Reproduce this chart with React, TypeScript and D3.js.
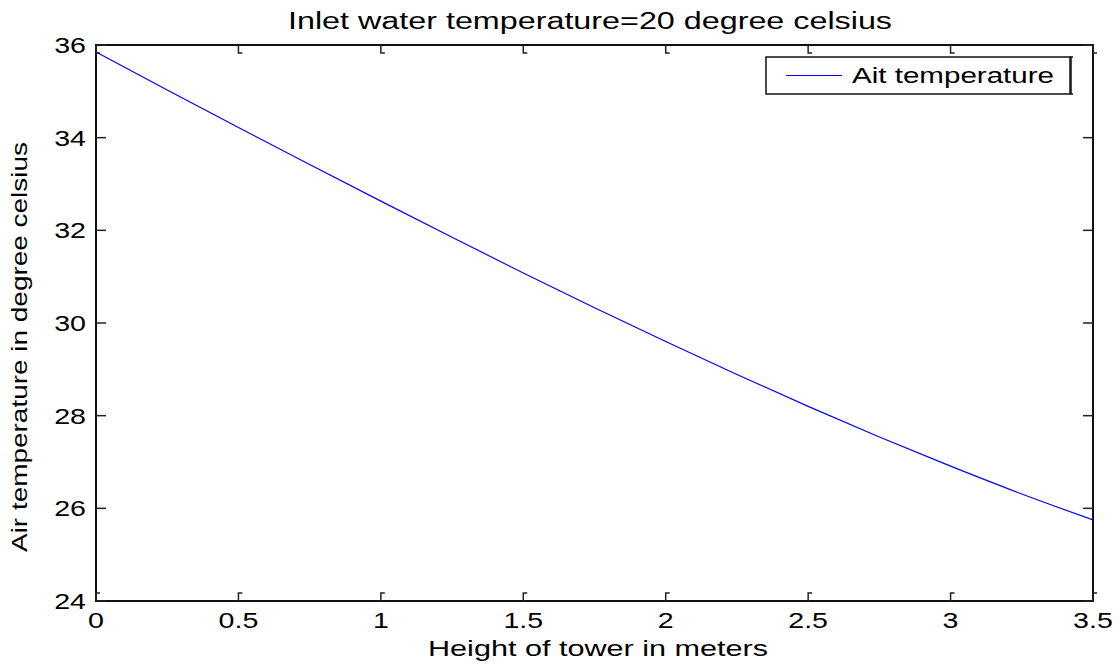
import React, { useRef, useEffect } from "react";
import * as d3 from "d3";

// height of tower (m) and air temperature (deg C)
const heights = [0, 0.25, 0.5, 0.75, 1.0, 1.25, 1.5, 1.75, 2.0, 2.25, 2.5, 2.75, 3.0, 3.25, 3.5];
const airTemps = [35.85, 35.03, 34.22, 33.42, 32.63, 31.85, 31.08, 30.33, 29.6, 28.89, 28.2, 27.54, 26.91, 26.31, 25.75];
const xTicks = [0, 0.5, 1, 1.5, 2, 2.5, 3, 3.5];
const yTicks = [24, 26, 28, 30, 32, 34, 36];

const title = "Inlet water temperature=20 degree celsius";
const xLabel = "Height of tower in meters";
const yLabel = "Air temperature in degree celsius";
const legendLabel = "Ait temperature";

function App() {
  const svgRef = useRef<SVGSVGElement>(null);

  useEffect(() => {
    const W = 1120;
    const H = 665;
    const left = 96;
    const right = 1093;
    const top = 45;
    const bottom = 601;
    const font = "'Liberation Sans', Arial, sans-serif";

    const svg = d3.select(svgRef.current);
    svg.selectAll("*").remove();
    svg.attr("width", W).attr("height", H).style("background", "#fff");

    const x = d3.scaleLinear().domain([0, 3.5]).range([left, right]);
    const y = d3.scaleLinear().domain([24, 36]).range([bottom, top]);

    const data = heights.map((h, i) => ({ h, t: airTemps[i] }));

    // line
    const line = d3
      .line<{ h: number; t: number }>()
      .x((d) => x(d.h))
      .y((d) => y(d.t))
      .curve(d3.curveMonotoneX);
    svg
      .append("path")
      .datum(data)
      .attr("d", line)
      .attr("fill", "none")
      .attr("stroke", "#0000ff")
      .attr("stroke-width", 1.2);

    // axes box
    svg
      .append("rect")
      .attr("x", left)
      .attr("y", top)
      .attr("width", right - left)
      .attr("height", bottom - top)
      .attr("fill", "none")
      .attr("stroke", "#111")
      .attr("stroke-width", 2);

    // ticks
    const ticks = svg.append("g").attr("stroke", "#222").attr("stroke-width", 1.5).attr("fill", "none");
    yTicks.forEach((v) => {
      ticks.append("path").attr("d", `M${left},${y(v)}h10`);
      ticks.append("path").attr("d", `M${right},${y(v)}h-10`);
    });
    xTicks.forEach((v) => {
      ticks.append("path").attr("d", `M${x(v)},${bottom}v-8h4`);
      ticks.append("path").attr("d", `M${x(v)},${top}v8h4`);
    });

    // tick labels
    svg
      .append("g")
      .selectAll("text")
      .data(yTicks)
      .enter()
      .append("text")
      .attr("x", left - 10)
      .attr("y", (d) => y(d) + 8)
      .attr("text-anchor", "end")
      .attr("font-family", font)
      .attr("font-size", 22)
      .attr("transform", `translate(${left - 10},0) scale(1.3,1) translate(${-(left - 10)},0)`)
      .text((d) => d);

    svg
      .append("g")
      .selectAll("text")
      .data(xTicks)
      .enter()
      .append("text")
      .attr("x", (d) => x(d))
      .attr("y", 628)
      .attr("text-anchor", "middle")
      .attr("font-family", font)
      .attr("font-size", 22)
      .attr("transform", (d) => `translate(${x(d)},0) scale(1.3,1) translate(${-x(d)},0)`)
      .text((d) => d);

    // title
    svg
      .append("text")
      .attr("x", 590)
      .attr("y", 29)
      .attr("text-anchor", "middle")
      .attr("font-family", font)
      .attr("font-size", 23)
      .attr("textLength", 604)
      .attr("lengthAdjust", "spacingAndGlyphs")
      .text(title);

    // x label
    svg
      .append("text")
      .attr("x", 598)
      .attr("y", 656)
      .attr("text-anchor", "middle")
      .attr("font-family", font)
      .attr("font-size", 22)
      .attr("textLength", 340)
      .attr("lengthAdjust", "spacingAndGlyphs")
      .text(xLabel);

    // y label
    svg
      .append("text")
      .attr("transform", "translate(27,552) rotate(-90)")
      .attr("text-anchor", "start")
      .attr("font-family", font)
      .attr("font-size", 22)
      .attr("textLength", 410)
      .attr("lengthAdjust", "spacingAndGlyphs")
      .text(yLabel);

    // legend
    const lg = svg.append("g");
    lg.append("rect")
      .attr("x", 766)
      .attr("y", 57)
      .attr("width", 1070 - 766)
      .attr("height", 37)
      .attr("fill", "#fff")
      .attr("stroke", "#111")
      .attr("stroke-width", 1.5);
    lg.append("path")
      .attr("d", "M1070,57h3M1070,94h3M1071,57v37")
      .attr("stroke", "#111")
      .attr("stroke-width", 1.5)
      .attr("fill", "none");
    lg.append("line")
      .attr("x1", 786)
      .attr("x2", 842)
      .attr("y1", 75.5)
      .attr("y2", 75.5)
      .attr("stroke", "#0000ff")
      .attr("stroke-width", 1.2);
    lg.append("text")
      .attr("x", 852)
      .attr("y", 83)
      .attr("font-family", font)
      .attr("font-size", 22)
      .attr("textLength", 202)
      .attr("lengthAdjust", "spacingAndGlyphs")
      .text(legendLabel);
  }, []);

  return (
    <div style={{ margin: -8 }}>
      <svg ref={svgRef}></svg>
    </div>
  );
}

export default App;
